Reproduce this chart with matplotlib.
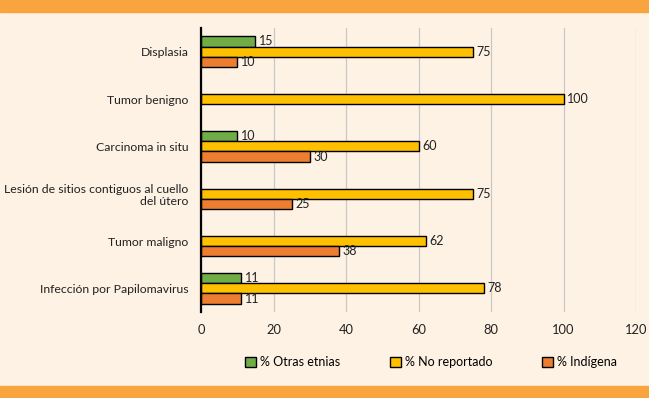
import numpy as np
import matplotlib.pyplot as plt
from matplotlib.patches import Rectangle

# data
categorias = ["Displasia", "Tumor benigno", "Carcinoma in situ",
              "Lesión de sitios contiguos al cuello\ndel útero",
              "Tumor maligno", "Infección por Papilomavirus"]
otras = [15, 0, 10, 0, 0, 11]
no_rep = [75, 100, 60, 75, 62, 78]
indigena = [10, 0, 30, 25, 38, 11]

series = [("% Otras etnias", otras, "#70ad47"),
          ("% No reportado", no_rep, "#ffc000"),
          ("% Indígena", indigena, "#ed7d31")]

bg = "#fdf2e3"
naranja = "#f9a53f"

plt.rcParams['font.family'] = ['Lato', 'DejaVu Sans']

fig = plt.figure(figsize=(6.49, 3.98), dpi=100, facecolor=bg)
ax = fig.add_axes([201/649, 1-312/398, 435/649, 284/398])
ax.set_facecolor(bg)

# orange bands top and bottom
fig.patches.append(Rectangle((0, 1-12/398), 1, 12/398, transform=fig.transFigure,
                             color=naranja, zorder=0))
fig.patches.append(Rectangle((0, 0), 1, 12/398, transform=fig.transFigure,
                             color=naranja, zorder=0))

y = np.arange(len(categorias))
h = 0.215
offs = [-h, 0, h]
for (lab, vals, col), off in zip(series, offs):
    for yi, v in zip(y, vals):
        if v == 0:
            continue
        ax.barh(yi + off, v, height=h, color=col, edgecolor="black", linewidth=1, zorder=3)
        ax.text(v + 1, yi + off, str(v), va="center", ha="left", fontsize=9, color="#222222")

ax.set_xlim(0, 120)
ax.set_ylim(len(categorias) - 0.5, -0.5)
ax.set_xticks(np.arange(0, 121, 20))
ax.set_yticks(y)
ax.set_yticklabels(categorias, ha="right", fontsize=8.8, color="#222222")
ax.tick_params(axis="both", length=0, colors="#222222")
ax.tick_params(axis="x", labelsize=9.3, pad=9)
ax.tick_params(axis="y", pad=9)
ax.xaxis.grid(True, color="#c8c8c8", linewidth=0.9)
ax.set_axisbelow(True)
for s in ["top", "right", "bottom"]:
    ax.spines[s].set_visible(False)
ax.spines["left"].set_linewidth(1.6)
ax.spines["left"].set_zorder(4)

# legend
handles = [Rectangle((0, 0), 1, 1, facecolor=c, edgecolor="black", linewidth=1) for _, _, c in series]
fig.legend(handles, [s[0] for s in series], loc="center", bbox_to_anchor=(0.664, 1-362/398),
           ncol=3, frameon=False, fontsize=9, handlelength=0.9, handleheight=0.9,
           handletextpad=0.3, columnspacing=4.0)

fig.savefig("out.png", dpi=100, facecolor=bg)
